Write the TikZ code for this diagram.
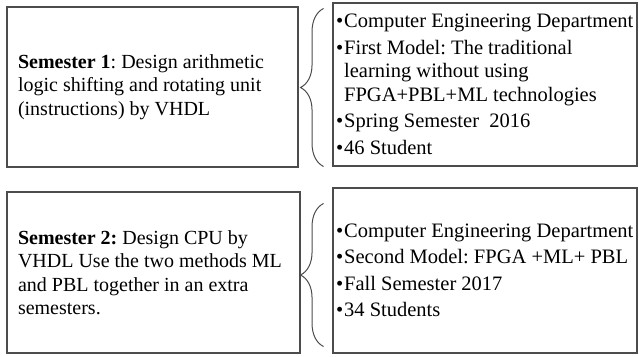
\documentclass[tikz,border=0pt]{standalone}
\usepackage{fontspec}
\setmainfont{Liberation Serif}
\usetikzlibrary{positioning,decorations.pathreplacing}
\newcommand{\dotitem}{\textbullet\hspace{1pt}}
\newcommand{\dotgap}{\phantom{\textbullet}\hspace{1pt}}
\tikzset{
  frame/.style={draw=black!70,line width=1.1pt,align=left,inner sep=0pt,
    font=\fontsize{20}{23.5}\selectfont,
    execute at begin node={\spaceskip=0pt\xspaceskip=0pt\frenchspacing}},
  listframe/.style={frame,font=\fontsize{20.5}{23.5}\selectfont},
  curly/.style={draw=black!70,line width=1pt,decorate,decoration={brace,amplitude=23pt}}
}

\begin{document}
\begin{tikzpicture}[x=1pt,y=-1pt]
        \useasboundingbox (0,0) rectangle (639,356);
        \node[frame,minimum width=291pt,minimum height=160pt,text width=269pt] (sem1) at (152.5,87) {\textbf{Semester 1}: Design arithmetic\\logic shifting and rotating unit\\(instructions) by VHDL};
        \node[listframe,minimum width=304pt,minimum height=163pt,text width=298pt] (info1) at (485,84.5) {\dotitem Computer Engineering Department\\[3pt]\dotitem First Model: The traditional\\\dotgap learning without using\\\dotgap FPGA+PBL+ML technologies\\[3pt]\dotitem Spring Semester\ \ 2016\\[3pt]\dotitem 46 Student};
        \node[frame,minimum width=293pt,minimum height=161pt,text width=271pt] (sem2) at (153.5,272.5) {\textbf{Semester 2:} Design CPU by\\VHDL Use the two methods ML\\and PBL together in an extra\\semesters.};
        \node[listframe,minimum width=304pt,minimum height=165pt,text width=298pt] (info2) at (485,270.5) {\dotitem Computer Engineering Department\\[3pt]\dotitem Second Model: FPGA +ML+ PBL\\[3pt]\dotitem Fall Semester 2017\\[3pt]\dotitem 34 Students\\[-5pt]};
        \draw[curly] ([xshift=25pt,yshift=1pt]sem1.south east) -- ([xshift=25pt,yshift=-2pt]sem1.north east);
        \draw[curly] ([xshift=23pt,yshift=7pt]sem2.south east) -- ([xshift=23pt,yshift=-12pt]sem2.north east);
  \end{tikzpicture}
\end{document}
